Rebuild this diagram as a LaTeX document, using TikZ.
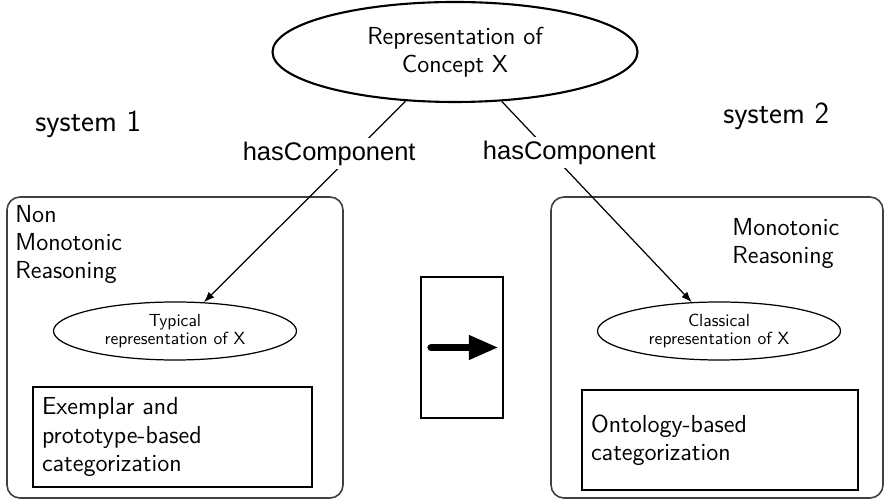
\documentclass[tikz,border=0pt]{standalone}
\usepackage{fontspec}
\newfontfamily\labelfont{Liberation Sans}
\usetikzlibrary{shapes.geometric,arrows.meta,positioning}

\tikzset{
  conceptnode/.style={ellipse, draw, line width=1.2pt, inner sep=1pt, align=center,
    font=\sffamily\fontsize{14}{16}\selectfont},
  repr/.style={ellipse, draw, line width=0.7pt, inner sep=1pt, align=center,
    minimum width=4.86cm, minimum height=1.16cm, font=\sffamily\fontsize{10}{10.5}\selectfont},
  sysbox/.style={draw=black!75, line width=0.9pt, rounded corners=0.26cm, minimum height=6.02cm},
  catbox/.style={draw, line width=0.8pt, minimum height=2cm, inner xsep=0.18cm, align=left,
    font=\sffamily\fontsize{14}{16}\selectfont},
  reason/.style={inner sep=0pt, align=left, anchor=north west, font=\sffamily\fontsize{14}{16}\selectfont},
  sysname/.style={inner sep=0pt, anchor=base west, font=\sffamily\fontsize{17.5}{20}\selectfont},
  comp/.style={-{Latex[length=6pt,width=4.5pt]}, line width=0.7pt},
  haslabel/.style={fill=white, inner sep=2pt, font=\labelfont\fontsize{14.5}{17}\selectfont},
}

\begin{document}
\begin{tikzpicture}
  \useasboundingbox (0,0) rectangle (17.7,10.02);

  \node[sysname] (sys1) at (0.7,7.39) {system 1};
  \node[sysname] (sys2) at (14.46,7.54) {system 2};

  \node[conceptnode, minimum width=7.3cm, minimum height=2cm] (concept) at (9.1,8.98) {Representation of\\Concept X};

  % system 1
  \node[sysbox, minimum width=6.72cm] (sysl) at (3.5,3.07) {};
  \node[reason] (nonmono) at (0.3,5.92) {Non\\Monotonic\\Reasoning};
  \node[repr] (typical) at (3.5,3.4) {Typical\\representation of X};
  \node[catbox, text width=5.22cm] (exemplar) at (3.45,1.28) {Exemplar and\\prototype-based\\categorization};

  % system 2
  \node[sysbox, minimum width=6.64cm] (sysr) at (14.34,3.07) {};
  \node[reason] (mono) at (14.64,5.66) {Monotonic\\Reasoning};
  \node[repr] (classical) at (14.38,3.4) {Classical\\representation of X};
  \node[catbox, text width=5.16cm] (ontology) at (14.4,1.22) {Ontology-based\\categorization};

  % transition
  \node[draw, line width=0.8pt, minimum width=1.64cm, minimum height=2.82cm] (mid) at (9.24,3.07) {};
  \draw[line width=4.5pt, line cap=round, -{Triangle[length=17pt,width=13pt]}]
    ([xshift=0.22cm]mid.west) -- ([xshift=-0.1cm]mid.east);

  \draw[comp] (concept) -- node[haslabel, pos=0.26, xshift=-0.48cm] (hasl) {hasComponent} (typical);
  \draw[comp] (concept) -- node[haslabel, pos=0.256, xshift=0.38cm] (hasr) {hasComponent} (classical);
\end{tikzpicture}
\end{document}
